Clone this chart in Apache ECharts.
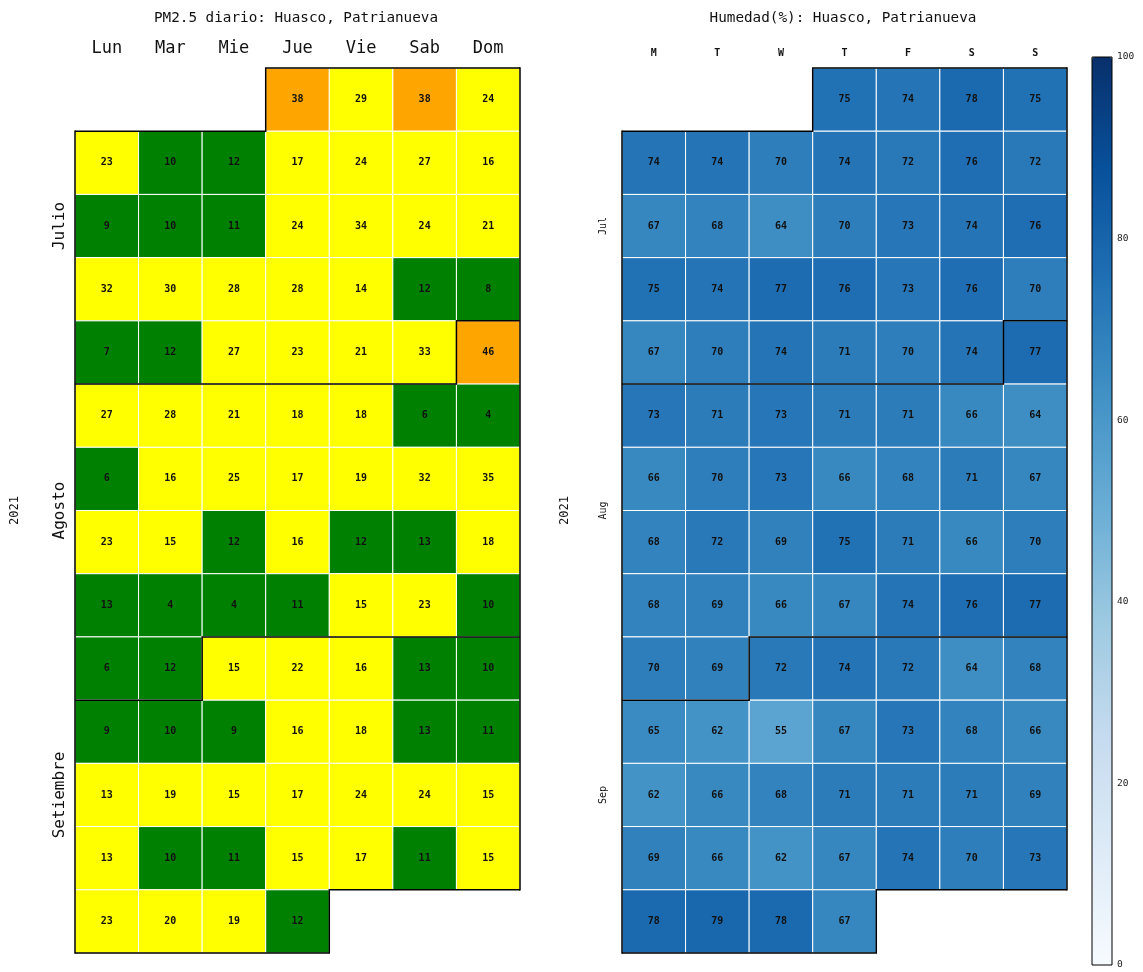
<!DOCTYPE html>
<html><head><meta charset="utf-8">
<script src="https://cdn.jsdelivr.net/npm/echarts@6/dist/echarts.min.js"></script>
<style>html,body{margin:0;padding:0;background:#fff}#c{width:1143px;height:972px}</style>
</head><body><div id="c"></div>
<script>
const startDate = '2021-07-01';
const endDate = '2021-09-30';
// day names indexed Sunday-first (ECharts nameMap convention); shown Monday-first
const dayNamesPM = ['Dom','Lun','Mar','Mie','Jue','Vie','Sab'];
const dayNamesHum = ['S','M','T','W','T','F','S'];
const monthNamesPM = ['Julio','Agosto','Setiembre'];
const monthNamesHum = ['Jul','Aug','Sep'];
const colorbarTicks = [0,20,40,60,80,100];

// PM2.5 daily values (µg/m³), Jul 1 .. Sep 30
const pmJul = [38,29,38,24, 23,10,12,17,24,27,16, 9,10,11,24,34,24,21, 32,30,28,28,14,12,8, 7,12,27,23,21,33];
const pmAug = [46, 27,28,21,18,18,6,4, 6,16,25,17,19,32,35, 23,15,12,16,12,12.9,18, 12.9,4,4,11,15,23,10, 6,12];
const pmSep = [15,22,16,12.9,10, 9,10,9,16,18,12.9,11, 13.1,19,15,17,24,24,15, 13.1,10,11,15,17,11,15, 23,20,19,12];

// Humidity (%) daily values
const humJul = [75,74,78,75, 74,74,70,74,72,76,72, 67,68,64,70,73,74,76, 75,74,77,76,73,76,70, 67,70,74,71,70,74];
const humAug = [77, 73,71,73,71,71,66,64, 66,70,73,66,68,71,67, 68,72,69,75,71,66,70, 68,69,66,67,74,76,77, 70,69];
const humSep = [72,74,72,64,68, 65,62,55,67,73,68,66, 62,66,68,71,71,71,69, 69,66,62,67,74,70,73, 78,79,78,67];

function toSeries(vals) {
  const out = [];
  const d0 = new Date(Date.UTC(2021, 6, 1));
  vals.forEach((v, i) => {
    const d = new Date(d0.getTime() + i * 86400000);
    out.push([d.toISOString().slice(0, 10), v]);
  });
  return out;
}
const pmData = toSeries(pmJul.concat(pmAug, pmSep));
const humData = toSeries(humJul.concat(humAug, humSep));

const FONT = 'DejaVu Sans Mono';
const calTop = 68, calH = 885, calW = 445;

function cal(left, names, dayFont, dayWeight, dayMargin) {
  return {
    orient: 'vertical',
    left: left, top: calTop, width: calW, height: calH,
    range: [startDate, endDate],
    splitLine: { show: true, lineStyle: { color: '#000', width: 1.5 } },
    itemStyle: { color: '#fff', borderColor: '#fff', borderWidth: 0 },
    dayLabel: { firstDay: 1, nameMap: names, position: 'start', margin: dayMargin,
      fontFamily: FONT, fontSize: dayFont, fontWeight: dayWeight, color: '#111' },
    monthLabel: { show: false },
    yearLabel: { show: false }
  };
}

const chart = echarts.init(document.getElementById('c'), null, { renderer: 'canvas' });
const labelCfg = {
  show: true, fontFamily: FONT, fontSize: 10, fontWeight: 'bold', color: '#111',
  formatter: p => String(Math.round(p.value[1]))
};
chart.setOption({
  animation: false,
  title: [
    { text: 'PM2.5 diario: Huasco, Patrianueva', left: 291, top: 6, textAlign: 'center',
      textStyle: { fontFamily: FONT, fontSize: 14.3, fontWeight: 'normal', color: '#111' } },
    { text: 'Humedad(%): Huasco, Patrianueva', left: 838, top: 6, textAlign: 'center',
      textStyle: { fontFamily: FONT, fontSize: 14.3, fontWeight: 'normal', color: '#111' } }
  ],
  calendar: [ cal(75, dayNamesPM, 17, 'normal', 11), cal(622, dayNamesHum, 10, 'bold', 10) ],
  visualMap: [
    { type: 'piecewise', show: false, seriesIndex: 0, dimension: 1,
      pieces: [ { lt: 13, color: '#008000' }, { gte: 13, lt: 37.5, color: '#ffff00' }, { gte: 37.5, color: '#ffa500' } ] },
    { type: 'continuous', show: true, seriesIndex: 1, dimension: 1, min: 0, max: 100,
      left: 1092, top: 57, itemWidth: 20, itemHeight: 908, padding: 0, text: null, showLabel: false,
      calculable: false, hoverLink: false,
      inRange: { color: ['#f7fbff','#deebf7','#c6dbef','#9ecae1','#6baed6','#4292c6','#2171b5','#08519c','#08306b'] } }
  ],
  grid: { left: 1092, top: 57, width: 20, height: 908, show: false },
  xAxis: { type: 'value', show: false, min: 0, max: 1 },
  yAxis: { type: 'value', position: 'right', min: 0, max: 100, interval: 20,
    axisLine: { show: false }, axisTick: { show: false }, splitLine: { show: false },
    axisLabel: { margin: 5, fontFamily: FONT, fontSize: 9.5, color: '#222',
      formatter: v => colorbarTicks.includes(v) ? String(v) : '' } },
  series: [
    { type: 'heatmap', coordinateSystem: 'calendar', calendarIndex: 0, data: pmData,
      itemStyle: { borderColor: '#fff', borderWidth: 1 }, label: labelCfg },
    { type: 'heatmap', coordinateSystem: 'calendar', calendarIndex: 1, data: humData,
      itemStyle: { borderColor: '#fff', borderWidth: 1 }, label: labelCfg }
  ]
});

// month labels and year labels (rotated), placed from calendar positions
const months = [['2021-07-01','2021-07-31'],['2021-08-01','2021-08-31'],['2021-09-01','2021-09-30']];
const gfx = [];
function addLabels(ci, names, x, fs, yearX, yearFs) {
  let ys = [];
  months.forEach((m, i) => {
    const a = chart.convertToPixel({ calendarIndex: ci }, m[0]);
    const b = chart.convertToPixel({ calendarIndex: ci }, m[1]);
    const y = (a[1] + b[1]) / 2;
    ys.push(a[1], b[1]);
    gfx.push({ type: 'text', x: x, y: y, rotation: Math.PI / 2,
      style: { text: names[i], fontFamily: FONT, fontSize: fs, fill: '#111', align: 'center', verticalAlign: 'middle' } });
  });
  const ymid = (Math.min(...ys) + Math.max(...ys)) / 2;
  gfx.push({ type: 'text', x: yearX, y: ymid, rotation: Math.PI / 2,
    style: { text: '2021', fontFamily: FONT, fontSize: yearFs, fill: '#111', align: 'center', verticalAlign: 'middle' } });
}
addLabels(0, monthNamesPM, 60, 16, 15, 12);
addLabels(1, monthNamesHum, 603, 10, 565, 12);
gfx.push({ type: 'rect', shape: { x: 1092, y: 57, width: 20, height: 908 }, z: 100,
  style: { fill: 'none', stroke: '#000', lineWidth: 1 } });
chart.setOption({ graphic: gfx });
</script>
</body></html>
